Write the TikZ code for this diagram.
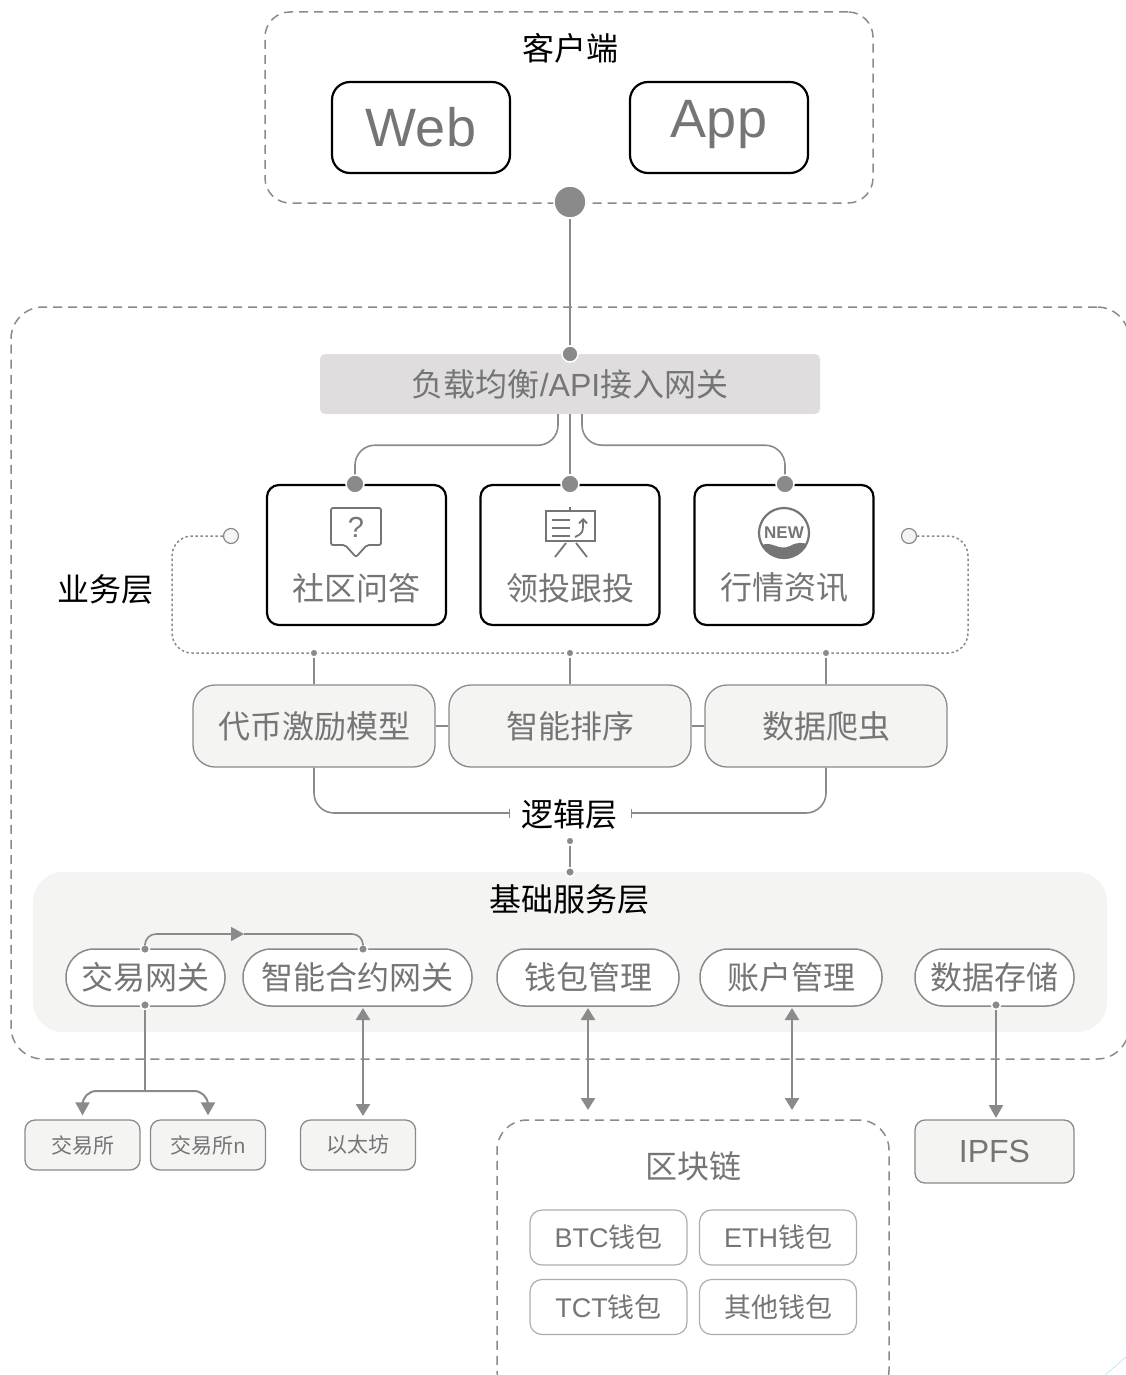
\documentclass[tikz,border=0pt]{standalone}
\usepackage{fontspec}
\setmainfont{Noto Sans CJK SC}
\newfontfamily\lat{Liberation Sans}
\usetikzlibrary{positioning,arrows.meta}
\definecolor{wire}{HTML}{8A8A8A}
\definecolor{ink}{HTML}{757575}
\definecolor{pale}{HTML}{F4F4F3}
\definecolor{bar}{HTML}{DFDDDD}
\tikzset{
  groupbox/.style={draw=wire,dashed,dash pattern=on 9pt off 6pt,line width=1.5pt,rounded corners=#1,inner sep=0pt},
  client/.style={draw=black,line width=2.2pt,rounded corners=18pt,minimum width=178pt,minimum height=91pt,text=ink,font=\lat\fontsize{54}{54}\selectfont},
  card/.style={draw=black,line width=2.2pt,rounded corners=12pt,minimum width=179pt,minimum height=140pt,text=ink,font=\fontsize{32}{32}\selectfont},
  logicbox/.style={draw=wire,fill=pale,line width=1.3pt,rounded corners=22pt,minimum width=242pt,minimum height=82pt,text=ink,font=\fontsize{32}{32}\selectfont},
  pill/.style={draw=wire,fill=white,line width=1.5pt,rounded corners=28pt,minimum height=57pt,text=ink,font=\fontsize{32}{32}\selectfont},
  extbox/.style={draw=wire,fill=pale,line width=1.3pt,rounded corners=10pt,minimum width=115pt,minimum height=50pt,text=ink,font=\fontsize{21}{21}\selectfont},
  walletbox/.style={draw=wire!70,fill=white,line width=1.2pt,rounded corners=12pt,minimum width=157pt,minimum height=55pt,text=ink,font=\fontsize{27}{27}\selectfont},
  heading/.style={font=\fontsize{32}{32}\selectfont},
  bigdot/.style={circle,fill=wire,draw=white,line width=1.5pt,inner sep=0pt,minimum size=#1},
  ring/.style={circle,fill=pale,draw=wire,line width=1.2pt,inner sep=0pt,minimum size=15pt},
  wirebold/.style={draw=wire,line width=2.5pt},
  wirethin/.style={draw=wire,line width=1.6pt},
  loopline/.style={draw=wire,line width=1.5pt,dash pattern=on 2.5pt off 2.5pt},
  bothtip/.style={{Triangle[width=14pt,length=12pt]}-{Triangle[width=14pt,length=12pt]}},
  endtip/.style={-{Triangle[width=14pt,length=13pt]}},
  icon/.style={draw=ink,line width=1.8pt},
}
\begin{document}
\begin{tikzpicture}[x=1pt,y=-1pt,on grid]
\path[use as bounding box,clip] (0,0) rectangle (1126,1375);
% groups
\node[groupbox=25pt,minimum width=608pt,minimum height=191pt] (clientgroup) at (569,107.5) {};
\node[groupbox=32pt,minimum width=1118pt,minimum height=752pt] (maingroup) at (570,683) {};
\node[groupbox=30pt,minimum width=392pt,minimum height=280pt] (chain) at (693,1260) {};
\node[fill=pale,rounded corners=30pt,minimum width=1074pt,minimum height=160pt,inner sep=0pt] (basepanel) at (570,952) {};
% client
\node[heading] (clienttitle) at (570,48) {客户端};
\node[client] (web) at (421,127.5) {};
\node[text=ink,font=\lat\fontsize{54}{54}\selectfont] (webtext) at (421,127) {Web};
\node[client] (app) [right=298pt of web] {};
\node[text=ink,font=\lat\fontsize{54}{54}\selectfont] (apptext) at (719,125) {App};
\node[bigdot=32pt] (clientdot) at (570,202) {};
% gateway
\node[fill=bar,rounded corners=5pt,minimum width=500pt,minimum height=60pt,text=ink,font=\fontsize{32}{32}\selectfont] (gate) at (570,384) {负载均衡{\lat /API}接入网关};
\node[bigdot=16pt] (gatedot) at (570,354) {};
% cards
\node[card] (qa) at (356.5,555) {};
\node[card] (lead) [right=213.5pt of qa] {};
\node[card] (news) [right=214pt of lead] {};
\node[text=ink,font=\fontsize{32}{32}\selectfont] (qatext) at (356,588) {社区问答};
\node[text=ink,font=\fontsize{32}{32}\selectfont] (leadtext) at (570,588) {领投跟投};
\node[text=ink,font=\fontsize{32}{32}\selectfont] (newstext) at (784,588) {行情资讯};
\node[bigdot=18pt] (qadot) at (355,484) {};
\node[bigdot=18pt] (leaddot) at (570,484) {};
\node[bigdot=18pt] (newsdot) at (785,484) {};
\path[wirethin,rounded corners=20pt] ([xshift=-12pt]gate.south) -- ++(0,31) -| (qadot);
\path[wirebold] (gate) -- (leaddot);
\path[wirethin,rounded corners=20pt] ([xshift=12pt]gate.south) -- ++(0,31) -| (newsdot);
\path[wirebold] (clientdot) -- (gatedot);
% question icon
\draw[icon,rounded corners=2pt] (331,508) -- (381,508) -- (381,545) -- (367,545) -- (356,557) -- (345,545) -- (331,545) -- cycle;
\node[text=ink,font=\lat\fontsize{29}{29}\selectfont] (qamark) at (356,527) {?};
% easel icon
\draw[icon] (570,507) -- (570,511);
\draw[icon] (546,511) -- (595,511) -- (595,541) -- (546,541) -- cycle;
\draw[icon] (552,520) -- (570,520) (552,528) -- (570,528) (552,536) -- (570,536);
\draw[icon,-{Straight Barb[length=4pt,width=8pt]}] (575,537) .. controls (583,533) .. (583,518);
\draw[icon] (566,543) -- (555,557) (576,543) -- (587,557);
% news icon
\begin{scope}
\clip (784,533) circle (25pt);
\fill[ink] (759,547) .. controls (770,538) and (778,552) .. (790,546) .. controls (797,542) and (803,542) .. (809,545) -- (809,560) -- (759,560) -- cycle;
\end{scope}
\draw[icon,line width=2.2pt] (784,533) circle (25pt);
\node[text=ink,font=\lat\bfseries\fontsize{17}{17}\selectfont] (newmark) at (784,533) {NEW};
% business layer
\node[heading] (bizlabel) at (105,589) {业务层};
\node[ring] (ringleft) at (231,536) {};
\node[ring] (ringright) at (909,536) {};
\coordinate (loopleft) at (172,653);
\coordinate (loopright) at (968,653);
\path[loopline,rounded corners=20pt] (ringleft) -| (loopleft) -- (loopright) |- (ringright);
% logic layer
\node[logicbox] (token) at (314,726) {代币激励模型};
\node[logicbox] (rank) [right=256pt of token] {智能排序};
\node[logicbox] (crawl) [right=256pt of rank] {数据爬虫};
\node[bigdot=8pt] (tokendot) at (314,653) {};
\node[bigdot=8pt] (rankdot) at (570,653) {};
\node[bigdot=8pt] (crawldot) at (826,653) {};
\path[wirethin,line width=2pt] (tokendot) -- (token);
\path[wirethin,line width=2pt] (rankdot) -- (rank);
\path[wirethin,line width=2pt] (crawldot) -- (crawl);
\path[wirebold] (token) -- (rank);
\path[wirebold] (rank) -- (crawl);
\node[heading] (logiclabel) at (569,814) {逻辑层};
\coordinate (logicleft) at (510,813);
\coordinate (logicright) at (631,813);
\path[wirethin,rounded corners=20pt,-{Bar[width=9pt,line width=1.2pt]}] (token.south) |- (logicleft);
\path[wirethin,rounded corners=20pt,-{Bar[width=9pt,line width=1.2pt]}] (crawl.south) |- (logicright);
\node[bigdot=8pt] (logicdot) at (570,841) {};
\node[bigdot=9pt] (basedot) at (570,872) {};
\path[wirebold] (logicdot) -- (basedot);
% base layer
\node[heading] (baselabel) at (569,899) {基础服务层};
\node[pill,minimum width=159pt] (exgate) at (145.5,977.5) {交易网关};
\node[pill,minimum width=229pt] (scgate) at (357.5,977.5) {智能合约网关};
\node[pill,minimum width=182pt] (walletmgr) at (588,977.5) {钱包管理};
\node[pill,minimum width=182pt] (accountmgr) at (791,977.5) {账户管理};
\node[pill,minimum width=159pt] (storage) at (994.5,977.5) {数据存储};
\node[bigdot=9pt] (extop) at (145,949) {};
\node[bigdot=9pt] (scdot) at (363,949) {};
\node[bigdot=9pt] (exbot) at (145,1005) {};
\node[bigdot=9pt] (storedot) at (996,1005) {};
\coordinate (midtip) at (244,934);
\path[wirethin,rounded corners=11pt,-{Triangle[width=14pt,length=13pt]}] (extop) |- (midtip);
\path[wirethin,rounded corners=11pt] (midtip) -| (scdot);
% outside
\node[extbox] (ex1) at (82.5,1145) {交易所};
\node[extbox] (ex2) [right=125.5pt of ex1] {交易所{\lat n}};
\node[extbox] (eth) at (358,1145) {以太坊};
\node[draw=wire,fill=pale,line width=1.3pt,rounded corners=10pt,minimum width=159pt,minimum height=63pt,text=ink,font=\lat\fontsize{32}{32}\selectfont] (ipfs) at (994.5,1151.5) {IPFS};
\coordinate (branch) at (145,1091);
\path[wirebold] (exbot) -- (branch);
\path[wirethin,line width=2pt,rounded corners=14pt,endtip,shorten >=4pt] (branch) -| (ex1.north);
\path[wirethin,line width=2pt,rounded corners=14pt,endtip,shorten >=4pt] (branch) -| (ex2.north);
\coordinate (sctop) at (363,1008);
\coordinate (scend) at (363,1116);
\path[wirebold,bothtip] (sctop) -- (scend);
\coordinate (wallettop) at (588,1008);
\coordinate (walletend) at (588,1110);
\path[wirebold,bothtip] (wallettop) -- (walletend);
\coordinate (accounttop) at (792,1008);
\coordinate (accountend) at (792,1110);
\path[wirebold,bothtip] (accounttop) -- (accountend);
\coordinate (ipfsend) at (996,1118);
\path[wirebold,endtip] (storedot) -- (ipfsend);
% blockchain
\node[text=ink,font=\fontsize{32}{32}\selectfont] (chaintitle) at (693,1166) {区块链};
\node[walletbox] (btc) at (608.5,1237.5) {{\lat BTC}钱包};
\node[walletbox] (ethw) [right=169.5pt of btc] {{\lat ETH}钱包};
\node[walletbox] (tct) at (608.5,1307) {{\lat TCT}钱包};
\node[walletbox] (other) [right=169.5pt of tct] {其他钱包};
% corner mark
\draw[cyan!30,line width=0.7pt] (1105,1375) -- (1126,1357);
\end{tikzpicture}
\end{document}
